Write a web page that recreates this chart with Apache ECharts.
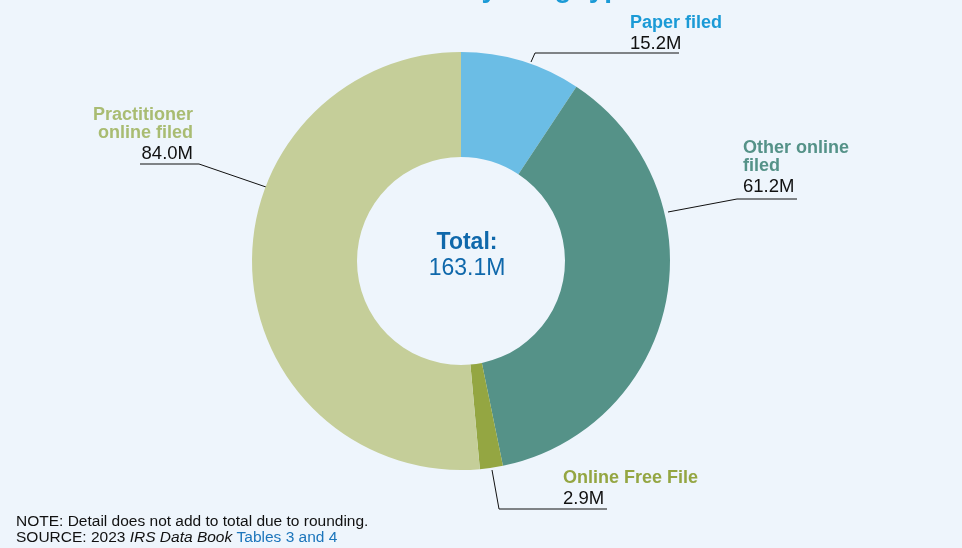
<!DOCTYPE html>
<html><head><meta charset="utf-8">
<script src="https://cdn.jsdelivr.net/npm/echarts@6/dist/echarts.min.js"></script>
<style>html,body{margin:0;padding:0;background:#EEF5FC;}#c{width:962px;height:548px;}</style>
</head><body><div id="c"></div>
<script>
const categories = ['Paper filed', 'Other online filed', 'Online Free File', 'Practitioner online filed'];
const nameLines = [['Paper filed'], ['Other online', 'filed'], ['Online Free File'], ['Practitioner', 'online filed']];
const values = [15.2, 61.2, 2.9, 84.0];
const totalValue = 163.1;
const colors = ['#6BBDE5', '#559288', '#94A642', '#C5CE99'];
const labelColors = ['#1B9AD6', '#559288', '#94A642', '#A9BC72'];

// label placement (style only): line start, elbow, end, text anchor
const labelPlace = [
  {pts: [[531, 62], [535, 53], [679, 53]], x: 630, y: 55.5, align: 'left'},
  {pts: [[668, 212], [737, 199], [797, 199]], x: 743, y: 198.5, align: 'left'},
  {pts: [[492, 470], [499, 509], [607, 509]], x: 563, y: 510.5, align: 'left'},
  {pts: [[266, 187], [199, 164], [140, 164]], x: 193, y: 165.5, align: 'right'}
];

const FF = 'Liberation Sans, Arial';
const chart = echarts.init(document.getElementById('c'));
const data = categories.map((c, i) => ({
  name: c, value: values[i],
  itemStyle: {color: colors[i]},
  label: {
    formatter: () => nameLines[i].map(l => '{n|' + l + '}').join('\n') + '\n{v|' + values[i].toFixed(1) + 'M}',
    rich: {
      n: {fontFamily: FF, fontWeight: 'bold', fontSize: 18, color: labelColors[i], lineHeight: 18.5, align: labelPlace[i].align},
      v: {fontFamily: FF, fontSize: 18.5, color: '#111', lineHeight: 23, align: labelPlace[i].align}
    }
  }
}));

chart.setOption({
  backgroundColor: '#EEF5FC',
  animation: false,
  title: [
    {text: 'Returns by filing type', right: 320, top: -30,
     textStyle: {fontFamily: FF, fontWeight: 'bold', fontSize: 28, color: '#1B9AD6'}},
    {text: 'Total:', subtext: totalValue.toFixed(1) + 'M', left: 462, top: 226, textAlign: 'center', itemGap: 3,
     textStyle: {fontFamily: FF, fontWeight: 'bold', fontSize: 23, color: '#0F68AB'},
     subtextStyle: {fontFamily: FF, fontSize: 23, color: '#0F68AB'}}
  ],
  graphic: [
    {type: 'text', left: 16, top: 514, style: {text: 'NOTE: Detail does not add to total due to rounding.', font: '15.5px "Liberation Sans", Arial', fill: '#111'}},
    {type: 'text', left: 16, top: 530, style: {
      text: '{a|SOURCE: 2023 }{b|IRS Data Book}{c| Tables 3 and 4}',
      rich: {
        a: {fontFamily: FF, fontSize: 15.5, fill: '#111'},
        b: {fontFamily: FF, fontSize: 15.5, fontStyle: 'italic', fill: '#111'},
        c: {fontFamily: FF, fontSize: 15.5, fill: '#1B75BB'}
      }}}
  ],
  series: [{
    type: 'pie',
    center: [461, 261],
    radius: [104, 209],
    startAngle: 90,
    clockwise: true,
    data: data,
    label: {show: true, position: 'outside'},
    labelLine: {show: true, lineStyle: {color: '#111', width: 1}},
    emphasis: {disabled: true},
    labelLayout: function (p) {
      const L = labelPlace[p.dataIndex];
      return {x: L.x, y: L.y, align: L.align, verticalAlign: 'bottom', labelLinePoints: L.pts};
    }
  }]
});
</script></body></html>
